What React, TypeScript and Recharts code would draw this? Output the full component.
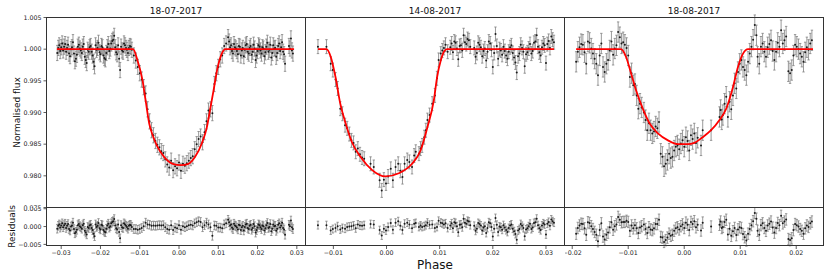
import React from 'react';
import { ComposedChart, Scatter, ErrorBar, XAxis, YAxis } from 'recharts';

// ---------- labels ----------
const panelTitles = ['18-07-2017', '14-08-2017', '18-08-2017'];
const fluxTicks = [0.975, 0.98, 0.985, 0.99, 0.995, 1.0, 1.005];
const residTicks = [-0.005, 0, 0.005];
const xTicks1 = [-0.03, -0.02, -0.01, 0, 0.01, 0.02, 0.03];
const xTicks2 = [-0.01, 0, 0.01, 0.02, 0.03];
const xTicks3 = [-0.02, -0.01, 0, 0.01, 0.02];
const fluxErr = [0.0012, 0.0011, 0.0016];

// ---------- 18-07-2017 ----------
const p1Phase = [
  -0.03100, -0.03075, -0.03050, -0.03025, -0.03000, -0.02975, -0.02950, -0.02925, -0.02900, -0.02875,
  -0.02850, -0.02825, -0.02800, -0.02775, -0.02750, -0.02725, -0.02700, -0.02675, -0.02650, -0.02625,
  -0.02600, -0.02575, -0.02550, -0.02525, -0.02500, -0.02475, -0.02450, -0.02425, -0.02400, -0.02375,
  -0.02350, -0.02325, -0.02300, -0.02275, -0.02250, -0.02225, -0.02200, -0.02175, -0.02150, -0.02125,
  -0.02100, -0.02075, -0.02050, -0.02025, -0.02000, -0.01975, -0.01950, -0.01925, -0.01900, -0.01875,
  -0.01850, -0.01825, -0.01800, -0.01775, -0.01750, -0.01725, -0.01700, -0.01675, -0.01650, -0.01625,
  -0.01600, -0.01575, -0.01550, -0.01525, -0.01500, -0.01475, -0.01450, -0.01425, -0.01400, -0.01375,
  -0.01350, -0.01325, -0.01300, -0.01275, -0.01250, -0.01225, -0.01200,
  -0.0115, -0.0110, -0.0105, -0.0100, -0.0095, -0.0090, -0.0085, -0.0080, -0.0075, -0.0070,
  -0.0065, -0.0060, -0.0055, -0.0050, -0.0045, -0.0040, -0.0035, -0.0030, -0.0025, -0.0020,
  -0.0015, -0.0010, -0.0005, 0.0000, 0.0005, 0.0010, 0.0015, 0.0020, 0.0025, 0.0030,
  0.0035, 0.0040, 0.0045, 0.0050, 0.0055, 0.0060, 0.0065, 0.0070, 0.0075, 0.0080,
  0.0085, 0.0090, 0.0095, 0.0100, 0.0105, 0.0110, 0.0115, 0.0120,
  0.01250, 0.01275, 0.01300, 0.01325, 0.01350, 0.01375, 0.01400, 0.01425, 0.01450, 0.01475,
  0.01500, 0.01525, 0.01550, 0.01575, 0.01600, 0.01625, 0.01650, 0.01675, 0.01700, 0.01725,
  0.01750, 0.01775, 0.01800, 0.01825, 0.01850, 0.01875, 0.01900, 0.01925, 0.01950, 0.01975,
  0.02000, 0.02025, 0.02050, 0.02075, 0.02100, 0.02125, 0.02150, 0.02175, 0.02200, 0.02225,
  0.02250, 0.02275, 0.02300, 0.02325, 0.02350, 0.02375, 0.02400, 0.02425, 0.02450, 0.02475,
  0.02500, 0.02525, 0.02550, 0.02575, 0.02600, 0.02625, 0.02650, 0.02675, 0.02700, 0.02800,
  0.02825, 0.02850, 0.02875, 0.02900,
];
const p1Flux = [
  0.9994, 1.0002, 1.0006, 0.9997, 1.0003, 1.0009, 0.9998, 1.0004, 1.0008, 0.9996,
  1.0002, 1.0007, 0.9993, 0.9989, 1.0000, 1.0003, 1.0011, 0.9993, 0.9981, 0.9985,
  0.9991, 1.0004, 1.0007, 1.0001, 0.9998, 0.9994, 1.0004, 1.0008, 0.9988, 0.9983,
  0.9978, 0.9999, 0.9996, 1.0003, 1.0005, 0.9996, 0.9990, 0.9980, 0.9973, 1.0006,
  0.9999, 1.0002, 1.0010, 0.9995, 0.9992, 1.0005, 1.0003, 0.9990, 0.9986, 0.9984,
  0.9994, 1.0003, 1.0008, 0.9997, 1.0001, 1.0009, 1.0013, 1.0015, 1.0021, 1.0003,
  0.9995, 0.9992, 1.0006, 0.9985, 0.9967, 1.0004, 0.9998, 0.9996, 1.0009, 1.0006,
  1.0002, 0.9999, 0.9994, 1.0002, 1.0005, 1.0004, 0.9999,
  0.9990, 0.9982, 0.9972, 0.9962, 0.9952, 0.9940, 0.9930, 0.9905, 0.9886, 0.9872,
  0.9864, 0.9855, 0.9849, 0.9845, 0.9839, 0.9836, 0.9826, 0.9818, 0.9813, 0.9824,
  0.9809, 0.9815, 0.9812, 0.9821, 0.9808, 0.9819, 0.9816, 0.9820, 0.9824, 0.9828,
  0.9831, 0.9842, 0.9850, 0.9858, 0.9862, 0.9853, 0.9869, 0.9886, 0.9903, 0.9905,
  0.9899, 0.9945, 0.9962, 0.9972, 0.9984, 0.9990, 1.0005, 1.0009,
  1.0019, 1.0012, 1.0003, 1.0006, 0.9997, 0.9993, 1.0008, 1.0003, 1.0001, 0.9997,
  0.9992, 1.0005, 1.0004, 0.9990, 0.9998, 1.0002, 0.9989, 0.9999, 1.0006, 1.0008,
  0.9996, 0.9993, 1.0002, 1.0005, 0.9991, 0.9996, 1.0007, 1.0001, 0.9983, 0.9990,
  0.9997, 1.0006, 1.0004, 0.9998, 0.9993, 1.0003, 1.0001, 0.9989, 0.9995, 1.0004,
  1.0010, 0.9996, 0.9999, 1.0007, 0.9987, 0.9994, 1.0006, 1.0001, 1.0002, 0.9988,
  0.9994, 1.0005, 1.0009, 0.9997, 1.0003, 1.0011, 0.9996, 0.9992, 0.9977, 1.0005,
  1.0001, 1.0017, 0.9998, 0.9993,
];
const p1Resid = [
  -0.0006, 0.0002, 0.0006, -0.0003, 0.0003, 0.0009, -0.0002, 0.0004, 0.0008, -0.0004,
  0.0002, 0.0007, -0.0007, -0.0011, 0.0000, 0.0003, 0.0011, -0.0007, -0.0019, -0.0015,
  -0.0009, 0.0004, 0.0007, 0.0001, -0.0002, -0.0006, 0.0004, 0.0008, -0.0012, -0.0017,
  -0.0022, -0.0001, -0.0004, 0.0003, 0.0005, -0.0004, -0.0010, -0.0020, -0.0027, 0.0006,
  -0.0001, 0.0002, 0.0010, -0.0005, -0.0008, 0.0005, 0.0003, -0.0010, -0.0014, -0.0016,
  -0.0006, 0.0003, 0.0008, -0.0003, 0.0001, 0.0009, 0.0013, 0.0015, 0.0021, 0.0003,
  -0.0005, -0.0008, 0.0006, -0.0015, -0.0033, 0.0004, -0.0002, -0.0004, 0.0009, 0.0006,
  0.0002, -0.0001, -0.0006, 0.0002, 0.0005, 0.0004, -0.0001,
  -0.0007, -0.0007, -0.0009, -0.0007, -0.0004, 0.0001, 0.0011, 0.0006, 0.0005, 0.0002,
  0.0003, 0.0002, 0.0003, 0.0004, 0.0003, 0.0004, -0.0002, -0.0007, -0.0009, 0.0004,
  -0.0010, -0.0003, -0.0005, 0.0004, -0.0009, 0.0001, -0.0002, 0.0001, 0.0004, 0.0005,
  0.0003, 0.0009, 0.0012, 0.0015, 0.0013, -0.0002, 0.0004, 0.0011, 0.0006, -0.0002,
  -0.0026, 0.0003, 0.0002, -0.0003, -0.0003, -0.0005, 0.0006, 0.0009,
  0.0019, 0.0012, 0.0003, 0.0006, -0.0003, -0.0007, 0.0008, 0.0003, 0.0001, -0.0003,
  -0.0008, 0.0005, 0.0004, -0.0010, -0.0002, 0.0002, -0.0011, -0.0001, 0.0006, 0.0008,
  -0.0004, -0.0007, 0.0002, 0.0005, -0.0009, -0.0004, 0.0007, 0.0001, -0.0017, -0.0010,
  -0.0003, 0.0006, 0.0004, -0.0002, -0.0007, 0.0003, 0.0001, -0.0011, -0.0005, 0.0004,
  0.0010, -0.0004, -0.0001, 0.0007, -0.0013, -0.0006, 0.0006, 0.0001, 0.0002, -0.0012,
  -0.0006, 0.0005, 0.0009, -0.0003, 0.0003, 0.0011, -0.0004, -0.0008, -0.0023, 0.0005,
  0.0001, 0.0017, -0.0002, -0.0007,
];
const m1Phase = [-0.0311, -0.0117, -0.0106, -0.0093, -0.0085, -0.0076, -0.0067, -0.0055, -0.0038, -0.0016, 0.0005, 0.0024, 0.0041, 0.0058, 0.0071, 0.0079, 0.0088, 0.0097, 0.0109, 0.0118, 0.0293];
const m1Flux = [1, 1, 0.9983, 0.9951, 0.9919, 0.9883, 0.9864, 0.9846, 0.983, 0.9819, 0.9817, 0.9819, 0.983, 0.9851, 0.9877, 0.9904, 0.9935, 0.9967, 0.9993, 1, 1];

// ---------- 14-08-2017 ----------
const p2Phase = [
  -0.0129, -0.0113, -0.0105, -0.0101, -0.0096, -0.0092, -0.0087, -0.0083, -0.0078, -0.0074,
  -0.0070, -0.0066, -0.0062, -0.0058, -0.0054, -0.0050, -0.0046, -0.0042, -0.0030, -0.0024,
  -0.0013, -0.0009, -0.0005, -0.0001, 0.0003, 0.0008, 0.0012, 0.0017, 0.0022, 0.0026,
  0.0030, 0.0034, 0.0039, 0.0043, 0.0048, 0.0052, 0.0055, 0.0061, 0.0064, 0.0067,
  0.0071, 0.0074, 0.0077, 0.0081, 0.0086, 0.0091, 0.0095, 0.0098, 0.0102, 0.0105,
  0.0108, 0.0111, 0.0115,
  0.01200, 0.01225, 0.01250, 0.01275, 0.01300, 0.01325, 0.01350, 0.01375, 0.01400, 0.01425,
  0.01450, 0.01475, 0.01500, 0.01525, 0.01550, 0.01575, 0.01650, 0.01675, 0.01700, 0.01725,
  0.01750, 0.01775, 0.01800, 0.01825, 0.01850, 0.01875, 0.01900, 0.01925, 0.01950, 0.01975,
  0.02000, 0.02025, 0.02050, 0.02075, 0.02100, 0.02125, 0.02150, 0.02175, 0.02200, 0.02225,
  0.02250, 0.02275, 0.02300, 0.02325, 0.02350, 0.02375, 0.02400, 0.02425, 0.02450, 0.02475,
  0.02500, 0.02525, 0.02550, 0.02575, 0.02600, 0.02625, 0.02650, 0.02675, 0.02700, 0.02725,
  0.02750, 0.02775, 0.02800, 0.02825, 0.02850, 0.02875, 0.02900, 0.02925, 0.02950, 0.02975,
  0.03000, 0.03025, 0.03050, 0.03075, 0.03100, 0.03125, 0.03150,
];
const p2Flux = [
  1.0004, 1.0004, 0.9977, 0.9967, 0.9952, 0.9938, 0.9906, 0.9898, 0.9880, 0.9875,
  0.9866, 0.9856, 0.9852, 0.9838, 0.9843, 0.9834, 0.9829, 0.9827, 0.9819, 0.9814,
  0.9793, 0.9777, 0.9794, 0.9788, 0.9799, 0.9811, 0.9793, 0.9814, 0.9819, 0.9808,
  0.9798, 0.9819, 0.9825, 0.9822, 0.9814, 0.9832, 0.9838, 0.9835, 0.9843, 0.9848,
  0.9861, 0.9872, 0.9888, 0.9896, 0.9914, 0.9927, 0.9954, 0.9983, 0.9993, 0.9998,
  1.0002, 1.0007, 0.9996,
  1.0003, 1.0009, 0.9995, 1.0012, 1.0010, 1.0001, 0.9984, 1.0005, 1.0006, 0.9998,
  1.0022, 1.0011, 1.0008, 1.0016, 1.0014, 1.0004, 1.0002, 0.9988, 0.9994, 1.0010,
  1.0007, 1.0003, 0.9989, 0.9997, 1.0001, 0.9982, 0.9996, 1.0012, 1.0009, 0.9999,
  0.9972, 0.9994, 1.0024, 1.0005, 0.9985, 1.0000, 0.9998, 0.9991, 1.0004, 0.9997,
  0.9990, 0.9985, 0.9996, 1.0003, 1.0006, 0.9994, 0.9987, 0.9979, 0.9963, 0.9989,
  0.9993, 1.0007, 1.0002, 0.9996, 0.9973, 0.9992, 0.9995, 1.0001, 1.0008, 0.9993,
  0.9997, 1.0010, 1.0012, 1.0022, 1.0004, 0.9995, 0.9990, 1.0003, 1.0009, 1.0006,
  0.9978, 1.0008, 1.0013, 1.0002, 1.0020, 1.0015, 1.0011,
];
const p2Resid = [
  0.0004, 0.0004, -0.0011, -0.0007, -0.0004, 0.0001, -0.0008, -0.0004, -0.0006, -0.0001,
  0.0000, 0.0001, 0.0003, -0.0005, 0.0006, 0.0003, 0.0002, 0.0004, 0.0007, 0.0006,
  -0.0010, -0.0025, -0.0006, -0.0011, -0.0001, 0.0010, -0.0009, 0.0011, 0.0015, 0.0002,
  -0.0010, 0.0008, 0.0011, 0.0006, -0.0005, 0.0008, 0.0010, -0.0001, 0.0003, -0.0001,
  0.0001, 0.0004, 0.0011, 0.0005, 0.0006, -0.0004, -0.0001, 0.0016, 0.0011, 0.0009,
  0.0006, 0.0009, -0.0004,
  0.0003, 0.0009, -0.0005, 0.0012, 0.0010, 0.0001, -0.0016, 0.0005, 0.0006, -0.0002,
  0.0022, 0.0011, 0.0008, 0.0016, 0.0014, 0.0004, 0.0002, -0.0012, -0.0006, 0.0010,
  0.0007, 0.0003, -0.0011, -0.0003, 0.0001, -0.0018, -0.0004, 0.0012, 0.0009, -0.0001,
  -0.0028, -0.0006, 0.0024, 0.0005, -0.0015, 0.0000, -0.0002, -0.0009, 0.0004, -0.0003,
  -0.0010, -0.0015, -0.0004, 0.0003, 0.0006, -0.0006, -0.0013, -0.0021, -0.0037, -0.0011,
  -0.0007, 0.0007, 0.0002, -0.0004, -0.0027, -0.0008, -0.0005, 0.0001, 0.0008, -0.0007,
  -0.0003, 0.0010, 0.0012, 0.0022, 0.0004, -0.0005, -0.0010, 0.0003, 0.0009, 0.0006,
  -0.0022, 0.0008, 0.0013, 0.0002, 0.0020, 0.0015, 0.0011,
];
const m2Phase = [-0.0129, -0.0113, -0.0105, -0.0096, -0.0087, -0.0077, -0.0065, -0.0049, -0.0027, -0.0002, 0.0023, 0.0048, 0.0064, 0.0077, 0.0089, 0.0095, 0.0102, 0.0108, 0.0114, 0.0315];
const m2Flux = [1, 1, 0.9988, 0.9956, 0.9914, 0.9883, 0.9853, 0.983, 0.9809, 0.9799, 0.9804, 0.9819, 0.984, 0.9877, 0.9919, 0.9955, 0.9982, 0.9996, 1, 1];

// ---------- 18-08-2017 ----------
const p3Phase = [
  -0.0193, -0.0190, -0.0187, -0.0184, -0.0181, -0.0178, -0.0175, -0.0172, -0.0169, -0.0166,
  -0.0163, -0.0160, -0.0157, -0.0154, -0.0151, -0.0148, -0.0145, -0.0142, -0.0139, -0.0136,
  -0.0133, -0.0130, -0.0127, -0.0124, -0.0121, -0.0118, -0.0115, -0.0112, -0.0109, -0.0106,
  -0.0103, -0.0100, -0.0097, -0.0094, -0.0091, -0.0088, -0.0085, -0.0082, -0.0079, -0.0076,
  -0.0072, -0.0069, -0.0066, -0.0063, -0.0060, -0.0057, -0.0054, -0.0051, -0.0048, -0.0045,
  -0.0042, -0.0039, -0.0036, -0.0033, -0.0030, -0.0027, -0.0024, -0.0021, -0.0018, -0.0015,
  -0.0012, -0.0009, -0.0006, -0.0003, 0.0000, 0.0003, 0.0006, 0.0009, 0.0012, 0.0015,
  0.0018, 0.0021, 0.0024, 0.0030, 0.0033, 0.0048, 0.0063, 0.0065, 0.0067, 0.0069,
  0.0072, 0.0075, 0.0078, 0.0081, 0.0084, 0.0087, 0.0090, 0.0093, 0.0096, 0.0099,
  0.0102, 0.0105, 0.0108, 0.0111, 0.0114, 0.0117, 0.0120, 0.0123, 0.0126, 0.0129,
  0.0131, 0.0134, 0.0137, 0.0140, 0.0143, 0.0146, 0.0149, 0.0152, 0.0155, 0.0158,
  0.0161, 0.0164, 0.0167, 0.0170, 0.0173, 0.0176, 0.0179, 0.0182, 0.0186, 0.0189,
  0.0192, 0.0195, 0.0198, 0.0201, 0.0204, 0.0207, 0.0210, 0.0213, 0.0216, 0.0219,
  0.0222, 0.0225, 0.0228,
];
const p3Flux = [
  0.9980, 0.9996, 1.0003, 1.0008, 1.0007, 0.9995, 0.9977, 1.0012, 1.0010, 1.0001,
  0.9993, 0.9985, 0.9977, 0.9959, 0.9990, 1.0009, 0.9972, 0.9964, 0.9977, 0.9983,
  0.9998, 1.0012, 0.9991, 1.0001, 1.0006, 1.0027, 1.0019, 1.0009, 1.0011, 1.0007,
  1.0002, 0.9990, 0.9956, 0.9962, 0.9943, 0.9945, 0.9927, 0.9906, 0.9914, 0.9908,
  0.9900, 0.9888, 0.9872, 0.9883, 0.9872, 0.9867, 0.9870, 0.9878, 0.9875, 0.9885,
  0.9835, 0.9830, 0.9815, 0.9819, 0.9825, 0.9835, 0.9828, 0.9830, 0.9840, 0.9846,
  0.9848, 0.9842, 0.9851, 0.9856, 0.9846, 0.9861, 0.9855, 0.9840, 0.9864, 0.9858,
  0.9867, 0.9852, 0.9860, 0.9848, 0.9872, 0.9872, 0.9893, 0.9904, 0.9889, 0.9896,
  0.9914, 0.9925, 0.9893, 0.9917, 0.9905, 0.9927, 0.9946, 0.9938, 0.9964, 0.9977,
  0.9983, 0.9972, 0.9967, 0.9959, 0.9980, 0.9993, 1.0004, 1.0015, 1.0038, 1.0022,
  0.9988, 0.9977, 1.0004, 1.0009, 0.9996, 0.9988, 1.0003, 1.0008, 1.0014, 0.9997,
  0.9983, 0.9996, 1.0010, 1.0004, 1.0030, 1.0009, 1.0014, 1.0020, 0.9965, 0.9962,
  0.9967, 0.9990, 1.0007, 1.0004, 1.0000, 0.9993, 0.9988, 0.9980, 0.9995, 1.0003,
  0.9999, 1.0009, 1.0014,
];
const p3Resid = [
  -0.0020, -0.0004, 0.0003, 0.0008, 0.0007, -0.0005, -0.0023, 0.0012, 0.0010, 0.0001,
  -0.0007, -0.0015, -0.0023, -0.0041, -0.0010, 0.0009, -0.0028, -0.0036, -0.0023, -0.0017,
  -0.0002, 0.0012, -0.0009, 0.0001, 0.0006, 0.0027, 0.0019, 0.0012, 0.0013, 0.0013,
  0.0016, 0.0013, -0.0012, 0.0003, -0.0005, 0.0004, -0.0005, -0.0018, -0.0003, 0.0001,
  0.0006, -0.0007, -0.0018, -0.0002, -0.0008, -0.0010, -0.0005, 0.0007, 0.0007, 0.0019,
  -0.0029, -0.0031, -0.0043, -0.0038, -0.0031, -0.0020, -0.0026, -0.0023, -0.0012, -0.0005,
  -0.0002, -0.0008, 0.0001, 0.0006, -0.0004, 0.0011, 0.0005, -0.0010, 0.0013, 0.0007,
  0.0015, -0.0002, 0.0005, -0.0011, 0.0011, 0.0000, 0.0005, 0.0014, -0.0004, -0.0001,
  0.0013, 0.0019, -0.0022, -0.0006, -0.0026, -0.0013, -0.0004, -0.0024, -0.0008, -0.0002,
  -0.0004, -0.0021, -0.0030, -0.0039, -0.0020, -0.0007, 0.0004, 0.0015, 0.0038, 0.0022,
  -0.0012, -0.0023, 0.0004, 0.0009, -0.0004, -0.0012, 0.0003, 0.0008, 0.0014, -0.0003,
  -0.0017, -0.0004, 0.0010, 0.0004, 0.0030, 0.0009, 0.0014, 0.0020, -0.0035, -0.0038,
  -0.0033, -0.0010, 0.0007, 0.0004, 0.0000, -0.0007, -0.0012, -0.0020, -0.0005, 0.0003,
  -0.0001, 0.0009, 0.0014,
];
const m3Phase = [-0.0193, -0.0113, -0.0104, -0.0095, -0.0086, -0.0074, -0.0062, -0.0047, -0.0029, -0.0011, 0.0006, 0.0018, 0.0033, 0.0048, 0.0063, 0.0075, 0.0087, 0.0096, 0.0105, 0.0114, 0.023];
const m3Flux = [1, 1, 0.9988, 0.9962, 0.9935, 0.9906, 0.9883, 0.9867, 0.9856, 0.985, 0.985, 0.9852, 0.9861, 0.9872, 0.9888, 0.9906, 0.994, 0.9972, 0.9993, 1, 1];

// ---------- layout ----------
const FONT = 'DejaVu Sans';
const EDGES = [46.5, 305.5, 564.5, 823.5];
const TOP = 17.5;
const MID = 207.5;
const BOT = 245.5;
const X_DOMAINS: [number, number][] = [
  [-0.03374, 0.03221],
  [-0.01515, 0.03358],
  [-0.02129, 0.02496],
];
const FLUX_DOMAIN: [number, number] = [0.975, 1.005];
const RESID_DOMAIN: [number, number] = [-0.00545, 0.0052];

const fmt = (d: number) => (v: number) => (v < -1e-12 ? '\u2212' : '') + Math.abs(v).toFixed(d);

const panels = [
  { title: panelTitles[0], phase: p1Phase, flux: p1Flux, resid: p1Resid, mPhase: m1Phase, mFlux: m1Flux, err: fluxErr[0], ticks: xTicks1 },
  { title: panelTitles[1], phase: p2Phase, flux: p2Flux, resid: p2Resid, mPhase: m2Phase, mFlux: m2Flux, err: fluxErr[1], ticks: xTicks2 },
  { title: panelTitles[2], phase: p3Phase, flux: p3Flux, resid: p3Resid, mPhase: m3Phase, mFlux: m3Flux, err: fluxErr[2], ticks: xTicks3 },
];

const Dot = (p: any) => <circle cx={p.cx} cy={p.cy} r={1.0} fill="#1a1a1a" />;
const NoDot = () => <g />;

const tickStyle = { fontSize: 6.3, fill: '#222', fontFamily: FONT };

export default function App() {
  return (
    <div style={{ position: 'absolute', left: 0, top: 0, width: 830, height: 277, background: '#fff', fontFamily: FONT }}>
      {panels.map((p, i) => {
        const left = i === 0 ? 0 : EDGES[i];
        const width = EDGES[i + 1] - left;
        const yw = i === 0 ? EDGES[0] : 0;
        const pts = p.phase.map((x, k) => ({ x, y: p.flux[k], e: p.err }));
        const res = p.phase.map((x, k) => ({ x, y: p.resid[k], e: p.err }));
        const model = p.mPhase.map((x, k) => ({ x, y: p.mFlux[k] }));
        return (
          <React.Fragment key={i}>
            <div style={{ position: 'absolute', left, top: 0 }}>
              <ComposedChart width={width} height={MID} margin={{ top: TOP, right: 0, bottom: 0, left: 0 }}>
                <XAxis type="number" dataKey="x" domain={X_DOMAINS[i]} allowDataOverflow hide />
                <YAxis
                  type="number"
                  dataKey="y"
                  domain={FLUX_DOMAIN}
                  allowDataOverflow
                  ticks={fluxTicks}
                  interval={0}
                  hide={i !== 0}
                  width={yw}
                  tickFormatter={fmt(3)}
                  tick={tickStyle}
                  tickLine={{ stroke: '#333', strokeWidth: 0.8 }}
                  axisLine={false}
                  tickSize={3}
                  tickMargin={2}
                />
                <Scatter data={pts} fill="#1a1a1a" shape={Dot} isAnimationActive={false}>
                  <ErrorBar dataKey="e" direction="y" width={1.2} stroke="#808080" strokeWidth={0.8} isAnimationActive={false} />
                </Scatter>
                <Scatter
                  data={model}
                  fill="none"
                  stroke="#ff0000"
                  line={{ stroke: '#ff0000', strokeWidth: 1.8 }}
                  lineJointType="monotoneX"
                  shape={NoDot}
                  isAnimationActive={false}
                />
              </ComposedChart>
            </div>
            <div style={{ position: 'absolute', left, top: MID }}>
              <ComposedChart width={width} height={BOT - MID + 20} margin={{ top: 0, right: 0, bottom: 0, left: 0 }}>
                <XAxis
                  type="number"
                  dataKey="x"
                  domain={X_DOMAINS[i]}
                  allowDataOverflow
                  ticks={p.ticks}
                  interval={0}
                  height={20}
                  tickFormatter={fmt(2)}
                  tick={tickStyle}
                  tickLine={{ stroke: '#333', strokeWidth: 0.8 }}
                  axisLine={false}
                  tickSize={3}
                  tickMargin={1.5}
                />
                <YAxis
                  type="number"
                  dataKey="y"
                  domain={RESID_DOMAIN}
                  allowDataOverflow
                  ticks={residTicks}
                  interval={0}
                  hide={i !== 0}
                  width={yw}
                  tickFormatter={fmt(3)}
                  tick={tickStyle}
                  tickLine={{ stroke: '#333', strokeWidth: 0.8 }}
                  axisLine={false}
                  tickSize={3}
                  tickMargin={2}
                />
                <Scatter data={res} fill="#1a1a1a" shape={Dot} isAnimationActive={false}>
                  <ErrorBar dataKey="e" direction="y" width={1.2} stroke="#808080" strokeWidth={0.8} isAnimationActive={false} />
                </Scatter>
              </ComposedChart>
            </div>
          </React.Fragment>
        );
      })}
      <svg width={830} height={277} style={{ position: 'absolute', left: 0, top: 0, pointerEvents: 'none' }}>
        {[0, 1, 2].map((i) => (
          <g key={i}>
            <rect x={EDGES[i]} y={TOP} width={EDGES[i + 1] - EDGES[i]} height={MID - TOP} fill="none" stroke="#333" strokeWidth={1} />
            <rect x={EDGES[i]} y={MID} width={EDGES[i + 1] - EDGES[i]} height={BOT - MID} fill="none" stroke="#333" strokeWidth={1} />
            <text x={(EDGES[i] + EDGES[i + 1]) / 2} y={14} textAnchor="middle" fontSize={9} fontFamily={FONT} fill="#111">
              {panelTitles[i]}
            </text>
          </g>
        ))}
        <text transform={`translate(20,${(TOP + MID) / 2}) rotate(-90)`} textAnchor="middle" fontSize={9} fontFamily={FONT} fill="#111">
          Normalised flux
        </text>
        <text transform={`translate(15,${(MID + BOT) / 2}) rotate(-90)`} textAnchor="middle" fontSize={9} fontFamily={FONT} fill="#111">
          Residuals
        </text>
        <text x={435} y={268.5} textAnchor="middle" fontSize={12} fontFamily={FONT} fill="#111">
          Phase
        </text>
      </svg>
    </div>
  );
}
